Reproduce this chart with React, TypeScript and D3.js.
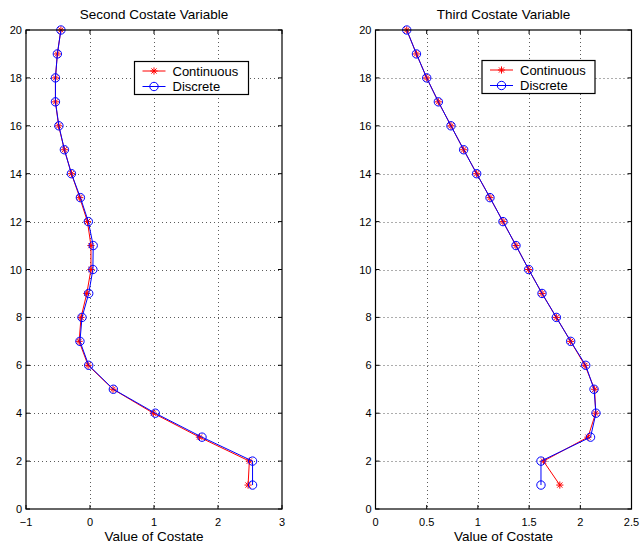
import React from "react";
import * as d3 from "d3";

const stages = [1, 2, 3, 4, 5, 6, 7, 8, 9, 10, 11, 12, 13, 14, 15, 16, 17, 18, 19, 20];

const secondContinuous = [2.47, 2.49, 1.71, 0.99, 0.36, -0.03, -0.17, -0.14, -0.05, 0.015, 0.015, -0.04, -0.16, -0.29, -0.4, -0.49, -0.54, -0.54, -0.51, -0.455];
const secondDiscrete = [2.54, 2.54, 1.75, 1.02, 0.365, -0.02, -0.157, -0.125, -0.02, 0.045, 0.05, -0.026, -0.15, -0.29, -0.4, -0.486, -0.54, -0.54, -0.51, -0.455];

const thirdContinuous = [1.8, 1.64, 2.075, 2.15, 2.14, 2.045, 1.906, 1.766, 1.626, 1.496, 1.372, 1.245, 1.118, 0.988, 0.861, 0.737, 0.614, 0.5, 0.4, 0.305];
const thirdDiscrete = [1.616, 1.616, 2.1, 2.153, 2.134, 2.053, 1.906, 1.766, 1.626, 1.496, 1.372, 1.245, 1.118, 0.988, 0.861, 0.737, 0.614, 0.5, 0.4, 0.305];

const yTicks = [0, 2, 4, 6, 8, 10, 12, 14, 16, 18, 20];
const secondXTicks = [-1, 0, 1, 2, 3];
const thirdXTicks = [0, 0.5, 1, 1.5, 2, 2.5];

const titles = ["Second Costate Variable", "Third Costate Variable"];
const xLabel = "Value of Costate";
const seriesNames = ["Continuous", "Discrete"];

const RED = "#ff0000";
const BLUE = "#0000ff";
const FONT = "'Liberation Sans', Arial, Helvetica, sans-serif";

const fmt = (v: number) => (v < 0 ? "\u2212" + Math.abs(v) : String(v));

function Star({ x, y, r = 3.6 }: { x: number; y: number; r?: number }) {
  const d = r * 0.72;
  return (
    <g stroke={RED} strokeWidth={1}>
      <line x1={x - r} y1={y} x2={x + r} y2={y} />
      <line x1={x} y1={y - r} x2={x} y2={y + r} />
      <line x1={x - d} y1={y - d} x2={x + d} y2={y + d} />
      <line x1={x - d} y1={y + d} x2={x + d} y2={y - d} />
    </g>
  );
}

type PanelProps = {
  left: number;
  right: number;
  top: number;
  bottom: number;
  xDomain: [number, number];
  xTicks: number[];
  cont: number[];
  disc: number[];
  title: string;
  legend: { x: number; y: number; w: number; h: number };
};

function Panel({ left, right, top, bottom, xDomain, xTicks, cont, disc, title, legend }: PanelProps) {
  const x = d3.scaleLinear().domain(xDomain).range([left, right]);
  const y = d3.scaleLinear().domain([0, 20]).range([bottom, top]);
  const line = d3
    .line<number>()
    .x((d) => x(d))
    .y((_, i) => y(stages[i]));
  const tickLen = 4;
  return (
    <g fontFamily={FONT}>
      <g stroke="#333" strokeWidth={1} strokeDasharray="1,3" opacity={0.8}>
        {xTicks.slice(1, -1).map((t) => (
          <line key={"gx" + t} x1={Math.round(x(t)) + 0.5} x2={Math.round(x(t)) + 0.5} y1={top} y2={bottom} />
        ))}
        {yTicks.slice(1, -1).map((t) => (
          <line key={"gy" + t} x1={left} x2={right} y1={Math.round(y(t)) + 0.5} y2={Math.round(y(t)) + 0.5} />
        ))}
      </g>
      <g stroke="#000" strokeWidth={1}>
        {xTicks.map((t) => (
          <g key={"tx" + t}>
            <line x1={x(t)} x2={x(t)} y1={bottom} y2={bottom - tickLen} />
            <line x1={x(t)} x2={x(t)} y1={top} y2={top + tickLen} />
          </g>
        ))}
        {yTicks.map((t) => (
          <g key={"ty" + t}>
            <line x1={left} x2={left + tickLen} y1={y(t)} y2={y(t)} />
            <line x1={right} x2={right - tickLen} y1={y(t)} y2={y(t)} />
          </g>
        ))}
      </g>
      <path d={line(cont) || ""} fill="none" stroke={RED} strokeWidth={1} />
      {cont.map((v, i) => (
        <Star key={"s" + i} x={x(v)} y={y(stages[i])} />
      ))}
      <path d={line(disc) || ""} fill="none" stroke={BLUE} strokeWidth={1} />
      {disc.map((v, i) => (
        <circle key={"c" + i} cx={x(v)} cy={y(stages[i])} r={4.2} fill="none" stroke={BLUE} strokeWidth={1} />
      ))}
      <rect x={left} y={top} width={right - left} height={bottom - top} fill="none" stroke="#000" strokeWidth={1.2} />
      <g fontSize={11} fill="#000">
        {xTicks.map((t) => (
          <text key={"lx" + t} x={x(t)} y={bottom + 17} textAnchor="middle">
            {fmt(t)}
          </text>
        ))}
        {yTicks.map((t) => (
          <text key={"ly" + t} x={left - 4} y={y(t) + 4} textAnchor="end">
            {fmt(t)}
          </text>
        ))}
      </g>
      <text x={(left + right) / 2} y={19} textAnchor="middle" fontSize={13.5} fill="#000">
        {title}
      </text>
      <text x={(left + right) / 2} y={541} textAnchor="middle" fontSize={13.5} fill="#000">
        {xLabel}
      </text>
      <g>
        <rect x={legend.x} y={legend.y} width={legend.w} height={legend.h} fill="#fff" stroke="#000" strokeWidth={1.2} />
        <line x1={legend.x + 8} x2={legend.x + 31} y1={legend.y + 9.5} y2={legend.y + 9.5} stroke={RED} strokeWidth={1} />
        <Star x={legend.x + 19.5} y={legend.y + 9.5} />
        <text x={legend.x + 38} y={legend.y + 14} fontSize={13} fill="#000">
          {seriesNames[0]}
        </text>
        <line x1={legend.x + 8} x2={legend.x + 31} y1={legend.y + 25} y2={legend.y + 25} stroke={BLUE} strokeWidth={1} />
        <circle cx={legend.x + 19.5} cy={legend.y + 25} r={4.2} fill="none" stroke={BLUE} strokeWidth={1} />
        <text x={legend.x + 38} y={legend.y + 29.5} fontSize={13} fill="#000">
          {seriesNames[1]}
        </text>
      </g>
    </g>
  );
}

export default function App() {
  return (
    <svg
      width={642}
      height={548}
      viewBox="0 0 642 548"
      style={{ position: "absolute", left: 0, top: 0, background: "#fff" }}
    >
      <rect x={0} y={0} width={642} height={548} fill="#fff" />
      <Panel
        left={26}
        right={282}
        top={30}
        bottom={509}
        xDomain={[-1, 3]}
        xTicks={secondXTicks}
        cont={secondContinuous}
        disc={secondDiscrete}
        title={titles[0]}
        legend={{ x: 134.5, y: 61.5, w: 114, h: 33 }}
      />
      <Panel
        left={375.5}
        right={631.5}
        top={30}
        bottom={509}
        xDomain={[0, 2.5]}
        xTicks={thirdXTicks}
        cont={thirdContinuous}
        disc={thirdDiscrete}
        title={titles[1]}
        legend={{ x: 482, y: 60.5, w: 113, h: 33 }}
      />
    </svg>
  );
}
